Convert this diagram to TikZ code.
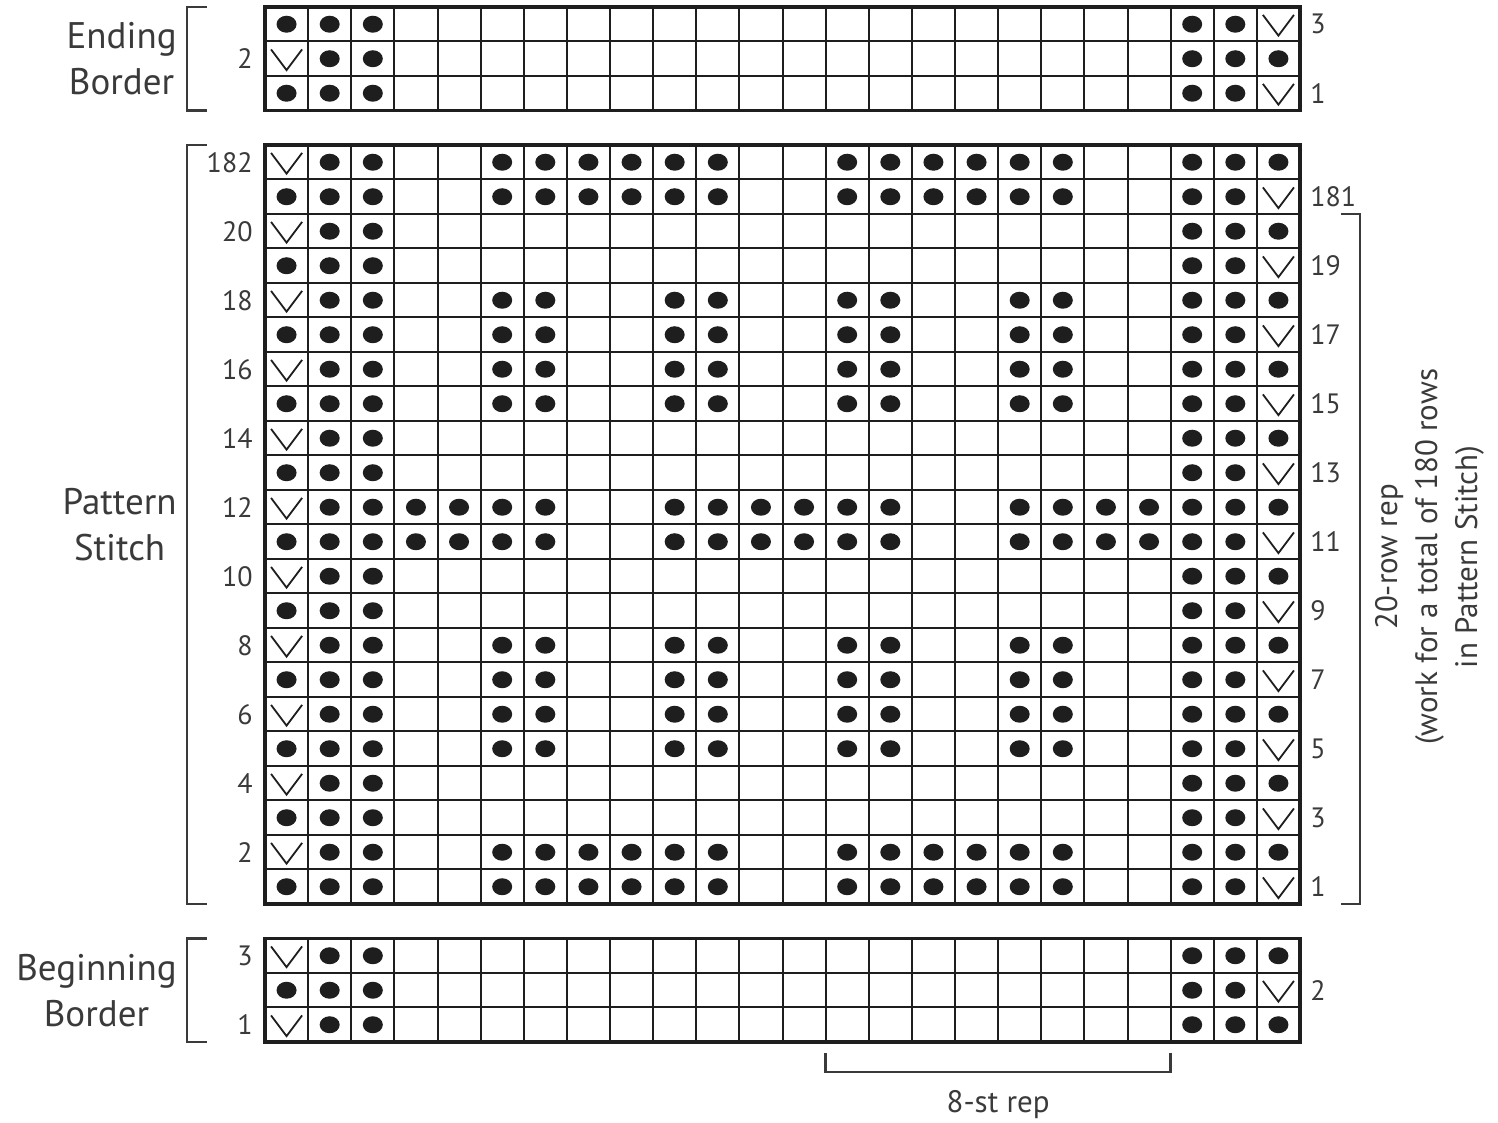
\documentclass[tikz,border=0pt]{standalone}
\usepackage{fontspec}
\setmainfont{PT Sans}
\definecolor{ink}{HTML}{1E1E1E}
\definecolor{txt}{HTML}{3A3A3A}

\begin{document}
\begin{tikzpicture}[x=21.5625pt, y=17.25pt,
  every node/.style={font=\fontsize{14}{19}\selectfont, txt, inner sep=0pt},
  cellline/.style={ink, line width=1pt},
  frame/.style={ink, line width=1.6pt},
  brace/.style={txt, line width=1.3pt},
  purl/.style={fill=ink},
  slip/.style={ink, line width=0.9pt},
  note/.style={font=\fontsize{15.5}{20}\selectfont},
  part/.style={font=\fontsize{18.5}{23}\selectfont, align=center, anchor=east}]
\useasboundingbox (-6.1449,-2.3478) rectangle (28.5913,30.2029);

% Chart blocks (bottom row / rows)
\foreach \b/\n in {0/3, 4/22, 27/3} {
  \pgfmathtruncatemacro\rfirst{\b+1}
  \pgfmathtruncatemacro\rlast{\b+\n-1}
  \pgfmathtruncatemacro\rtop{\b+\n}
  \foreach \c in {1,...,23} \draw[cellline] (\c,\b) -- (\c,\rtop);
  \foreach \y in {\rfirst,...,\rlast} \draw[cellline] (0,\y) -- (24,\y);
  \draw[frame] (0,\b) rectangle (24,\rtop);
}

% Edge stitches, slip at the left
\foreach \k in {1,3,6,8,10,12,14,16,18,20,22,24,26,29} {
  \draw[slip] (0.14,\k-0.23) -- (0.5,\k-0.83) -- (0.86,\k-0.23);
  \foreach \c in {2,3,22,23,24}
    \fill[purl] (\c-0.5,\k-0.5) ellipse (5pt and 4.25pt);
}
% Edge stitches, slip at the right
\foreach \k in {2,5,7,9,11,13,15,17,19,21,23,25,28,30} {
  \draw[slip] (23.14,\k-0.23) -- (23.5,\k-0.83) -- (23.86,\k-0.23);
  \foreach \c in {1,2,3,22,23}
    \fill[purl] (\c-0.5,\k-0.5) ellipse (5pt and 4.25pt);
}

% Pattern stitch purls
\foreach \k in {5,6,25,26}
  \foreach \c in {6,7,8,9,10,11,14,15,16,17,18,19}
    \fill[purl] (\c-0.5,\k-0.5) ellipse (5pt and 4.25pt);
\foreach \k in {9,10,11,12,19,20,21,22}
  \foreach \c in {6,7,10,11,14,15,18,19}
    \fill[purl] (\c-0.5,\k-0.5) ellipse (5pt and 4.25pt);
\foreach \k in {15,16}
  \foreach \c in {4,5,6,7,10,11,12,13,14,15,18,19,20,21}
    \fill[purl] (\c-0.5,\k-0.5) ellipse (5pt and 4.25pt);

% Row numbers
\foreach \k/\n in {1/1, 3/3, 6/2, 8/4, 10/6, 12/8, 14/10, 16/12, 18/14,
  20/16, 22/18, 24/20, 26/182, 29/2}
  \node[anchor=east] (left\k) at (-0.28,\k-0.5) {\n};
\foreach \k/\n in {2/2, 5/1, 7/3, 9/5, 11/7, 13/9, 15/11, 17/13, 19/15,
  21/17, 23/19, 25/181, 28/1, 30/3}
  \node[anchor=west] (right\k) at (24.23,\k-0.5) {\n};

% Section labels and brackets
\node[part] (ending) at (-2.04,28.5) {Ending\\Border};
\node[part] (pattern) at (-2.04,15) {Pattern\\Stitch};
\node[part] (beginning) at (-2.04,1.5) {Beginning\\Border};
\foreach \lo/\hi in {0/3, 4/26, 27/30}
  \draw[brace] (-1.345,\lo) -- (-1.81,\lo) -- (-1.81,\hi) -- (-1.345,\hi);

% Repeats
\draw[brace] (24.95,24) -- (25.39,24) -- (25.39,4) -- (24.95,4);
\node[note, rotate=90, align=center] (rowrep) at (27.0,14.06)
  {20-row rep\\(work for a total of 180 rows\\in Pattern Stitch)};
\draw[brace] (13,-0.32) -- (13,-0.87) -- (21,-0.87) -- (21,-0.32);
\node[note, anchor=base] (strep) at (17,-2.03) {8-st rep};
\end{tikzpicture}
\end{document}
